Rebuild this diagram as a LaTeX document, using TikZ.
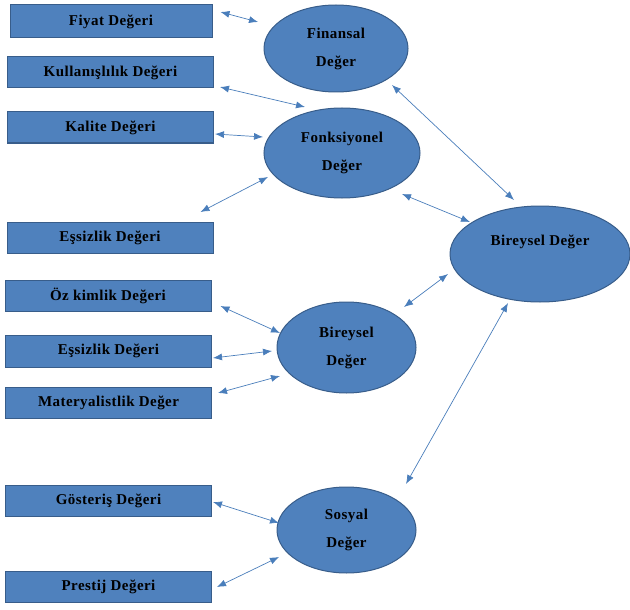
\documentclass[tikz,border=0pt]{standalone}
\usepackage{fontspec}
\setmainfont{Liberation Serif}
\newfontfamily\yazi[LetterSpace=3]{Liberation Serif}
\usetikzlibrary{calc,shapes.geometric,arrows.meta}
\definecolor{dolgu}{HTML}{4F81BD}
\definecolor{cizgi}{HTML}{385D8A}
\definecolor{okrenk}{HTML}{4A7EBB}
\newcommand{\yazitipi}{\yazi\bfseries\fontsize{15}{28}\selectfont}
\tikzset{
  kutu/.style={draw=cizgi, fill=dolgu, line width=1pt, minimum width=206pt,
    minimum height=31pt, inner sep=0pt, font=\yazitipi},
  elips/.style={ellipse, draw=cizgi, fill=dolgu, line width=1pt, inner sep=0pt,
    align=center, font=\yazitipi},
  ok/.style={okrenk, line width=.7pt,
    {Latex[length=9pt,width=7pt]}-{Latex[length=9pt,width=7pt]}}
}

\begin{document}
\begin{tikzpicture}[x=1pt,y=-1pt]
\useasboundingbox (0,0) rectangle (630,610);
% sol kutular
\node (fiyat) at (111,21.5) [kutu, minimum width=202pt, minimum height=33pt] {Fiyat Değeri};
\node (kullanis) at (110.5,72.5) [kutu] {Kullanışlılık Değeri};
\node (kalite) at (110.5,127.5) [kutu] {Kalite Değeri};
\node (essiz1) at (110,237.5) [kutu] {Eşsizlik Değeri};
\node (ozkimlik) at (108,295.5) [kutu] {Öz kimlik Değeri};
\node (essiz2) at (108.5,351) [kutu, minimum height=32pt] {Eşsizlik Değeri};
\node (mater) at (108.5,403) [kutu] {Materyalistlik Değer};
\node (gosteris) at (108.5,500.5) [kutu] {Gösteriş Değeri};
\node (prestij) at (108.5,586.5) [kutu] {Prestij Değeri};
% elipsler
\node (finansal) at (336,48.5) [elips, minimum width=144pt, minimum height=87pt] {Finansal\\Değer};
\node (fonks) at (342,153) [elips, minimum width=156pt, minimum height=90pt] {Fonksiyonel\\Değer};
\node (bireysel) at (346.5,347.5) [elips, minimum width=139pt, minimum height=91pt] {Bireysel\\Değer};
\node (sosyal) at (346.5,530) [elips, minimum width=139pt, minimum height=86pt] {Sosyal\\Değer};
\node (buyuk) at (540,254) [elips, minimum width=180pt, minimum height=96pt] {Bireysel Değer\\\mbox{}};

% oklar
\draw[ok] ($(fiyat.east)+(8,-9.5)$) to ($(finansal)+(-78,-26.5)$);
\draw[ok] ($(kullanis.east)+(6,14.5)$) to ($(fonks)+(-37,-46)$);
\draw[ok] ($(kalite.east)+(1,6.5)$) to ($(fonks)+(-79,-16)$);
\draw[ok] ($(essiz1.east)+(-13,-25.5)$) to ($(fonks)+(-74,24)$);
\draw[ok] ($(ozkimlik.east)+(9,10.5)$) to ($(bireysel)+(-66.5,-14.5)$);
\draw[ok] ($(essiz2.east)+(1,7)$) to ($(bireysel)+(-74.5,3.5)$);
\draw[ok] ($(mater.east)+(6,-10)$) to ($(bireysel)+(-66.5,28.5)$);
\draw[ok] ($(gosteris.east)+(1,1.5)$) to ($(sosyal)+(-67.5,-7)$);
\draw[ok] ($(prestij.east)+(5,0.5)$) to ($(sosyal)+(-67.5,27)$);

\draw[ok] ($(finansal)+(56,36.5)$) to ($(buyuk)+(-26,-54)$);
\draw[ok] ($(fonks)+(60,41)$) to ($(buyuk)+(-70,-32)$);
\draw[ok] ($(bireysel)+(57.5,-40.5)$) to ($(buyuk)+(-92,20)$);
\draw[ok] ($(sosyal)+(59.5,-46)$) to ($(buyuk)+(-32,49)$);
\end{tikzpicture}
\end{document}
